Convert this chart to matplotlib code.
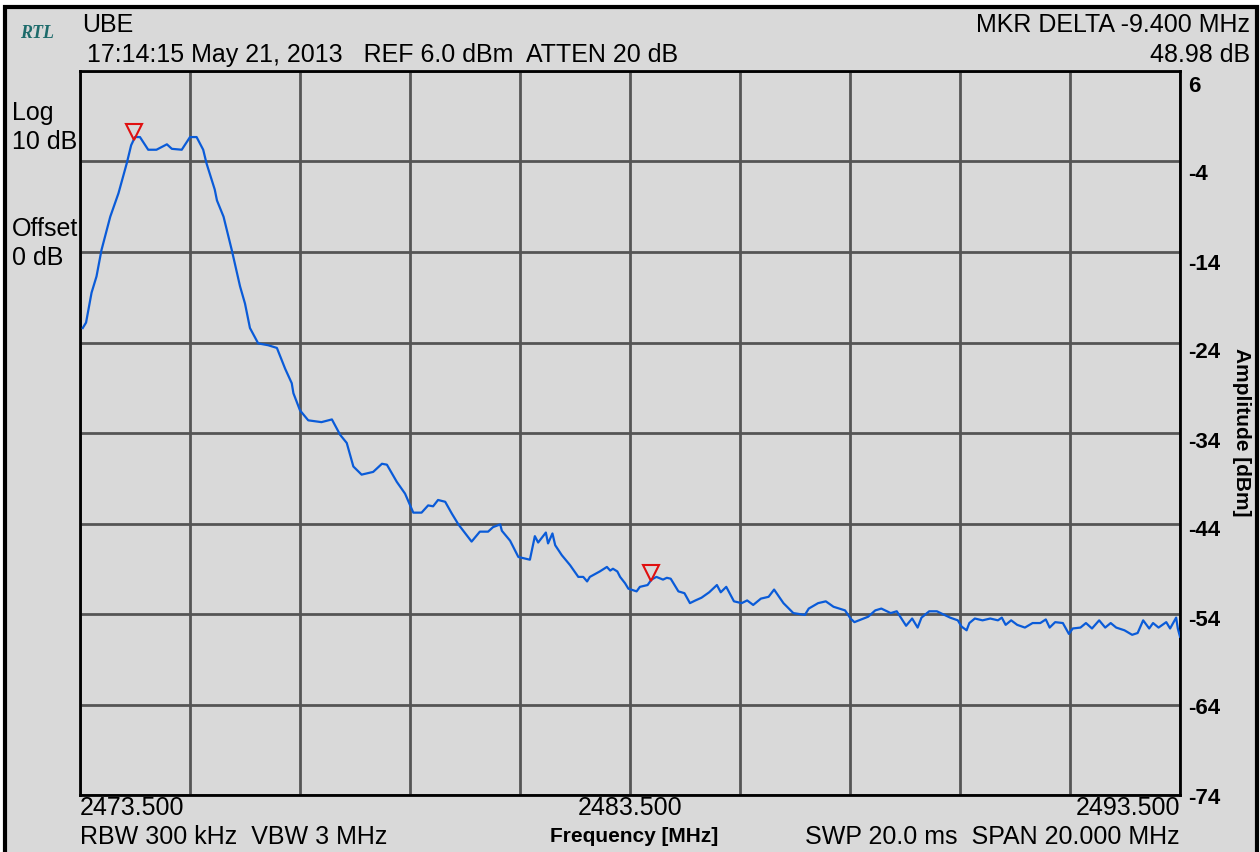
import numpy as np
import matplotlib
matplotlib.use('Agg')
import matplotlib.pyplot as plt
from matplotlib.patches import Rectangle
from matplotlib.transforms import ScaledTranslation, blended_transform_factory

# trace
freq_mhz = [
    2473.55, 2473.61, 2473.71, 2473.80, 2473.89, 2474.05, 2474.20, 2474.35, 2474.43, 2474.50,
    2474.59, 2474.74, 2474.89, 2475.08, 2475.17, 2475.35, 2475.50, 2475.62, 2475.74, 2475.80,
    2475.95, 2475.99, 2476.11, 2476.26, 2476.41, 2476.50, 2476.59, 2476.74, 2476.92, 2477.08,
    2477.23, 2477.35, 2477.38, 2477.50, 2477.65, 2477.89, 2478.08, 2478.23, 2478.35, 2478.47,
    2478.62, 2478.83, 2478.99, 2479.08, 2479.26, 2479.41, 2479.56, 2479.71, 2479.83, 2479.92,
    2480.01, 2480.14, 2480.26, 2480.38, 2480.53, 2480.62, 2480.77, 2480.92, 2481.01, 2481.14,
    2481.17, 2481.32, 2481.47, 2481.68, 2481.77, 2481.83, 2481.97, 2482.01, 2482.09, 2482.14,
    2482.26, 2482.41, 2482.56, 2482.65, 2482.72, 2482.77, 2482.95, 2483.08, 2483.14, 2483.19,
    2483.27, 2483.32, 2483.41, 2483.47, 2483.62, 2483.68, 2483.82, 2483.89, 2483.98, 2484.10,
    2484.17, 2484.24, 2484.38, 2484.49, 2484.59, 2484.69, 2484.80, 2484.94, 2485.08, 2485.15,
    2485.25, 2485.39, 2485.53, 2485.63, 2485.74, 2485.88, 2486.02, 2486.12, 2486.29, 2486.47,
    2486.68, 2486.75, 2486.92, 2487.06, 2487.20, 2487.41, 2487.51, 2487.58, 2487.83, 2487.96,
    2488.07, 2488.24, 2488.35, 2488.52, 2488.63, 2488.73, 2488.80, 2488.94, 2489.08, 2489.32,
    2489.46, 2489.53, 2489.62, 2489.67, 2489.77, 2489.91, 2490.05, 2490.19, 2490.26, 2490.33,
    2490.43, 2490.54, 2490.68, 2490.82, 2490.96, 2491.06, 2491.13, 2491.23, 2491.37, 2491.48,
    2491.55, 2491.69, 2491.79, 2491.90, 2492.03, 2492.14, 2492.24, 2492.34, 2492.49, 2492.63,
    2492.73, 2492.83, 2492.94, 2493.01, 2493.11, 2493.25, 2493.32, 2493.43, 2493.46, 2493.50,
]
amp_dbm = [
    -22.4, -21.8, -18.5, -16.7, -13.8, -10.1, -7.5, -4.2, -2.2, -1.3,
    -1.3, -2.7, -2.7, -2.1, -2.6, -2.7, -1.3, -1.3, -2.7, -4.2,
    -7.1, -8.3, -10.1, -13.8, -17.8, -19.7, -22.4, -24.1, -24.3, -24.6,
    -26.9, -28.5, -29.6, -31.5, -32.6, -32.8, -32.5, -34.2, -35.1, -37.7,
    -38.6, -38.3, -37.4, -37.5, -39.4, -40.7, -42.8, -42.8, -42.0, -42.1,
    -41.4, -41.6, -42.9, -44.1, -45.3, -46.0, -44.9, -44.9, -44.4, -44.1,
    -44.8, -45.9, -47.7, -48.0, -45.4, -46.1, -45.0, -46.2, -45.1, -46.4,
    -47.5, -48.6, -49.9, -49.9, -50.4, -49.9, -49.3, -48.8, -49.2, -49.0,
    -49.3, -49.9, -50.6, -51.2, -51.5, -51.0, -50.8, -50.2, -49.9, -50.2,
    -50.0, -50.1, -51.5, -51.7, -52.8, -52.5, -52.2, -51.6, -50.8, -51.6,
    -51.0, -52.6, -52.8, -52.5, -53.0, -52.3, -52.1, -51.3, -52.8, -53.9,
    -54.1, -53.4, -52.8, -52.6, -53.2, -53.6, -54.5, -54.9, -54.3, -53.6,
    -53.4, -53.9, -53.7, -55.3, -54.5, -55.5, -54.4, -53.7, -53.7, -54.4,
    -54.7, -55.4, -55.8, -55.0, -54.5, -54.7, -54.5, -54.7, -54.4, -55.2,
    -54.7, -55.2, -55.5, -55.0, -55.0, -54.6, -55.5, -54.9, -55.0, -56.2,
    -55.6, -55.5, -55.0, -55.6, -54.7, -55.5, -55.0, -55.5, -55.8, -56.3,
    -56.1, -54.7, -55.6, -55.0, -55.5, -54.9, -55.6, -54.4, -55.6, -56.5,
]
marker_freqs = [2474.48, 2483.88]

y_ticks = [6, -4, -14, -24, -34, -44, -54, -64, -74]
x_ticks = [2473.5, 2475.5, 2477.5, 2479.5, 2481.5, 2483.5,
           2485.5, 2487.5, 2489.5, 2491.5, 2493.5]
x_labels = ['2473.500', '2483.500', '2493.500']

BG = '#d9d9d9'
SANS = ['Liberation Sans', 'DejaVu Sans']
NARROW = ['Liberation Sans Narrow', 'Liberation Sans', 'DejaVu Sans']
FS = 18

W, H = 1260, 852
fig = plt.figure(figsize=(W / 100, H / 100), dpi=100, facecolor='white')
fig.patches.append(Rectangle((5 / W, -0.05), 1252 / W, 1 - 7 / H + 0.05,
                             transform=fig.transFigure, facecolor=BG,
                             edgecolor='black', lw=3, zorder=-1))

def fx(px):
    return px / W

def fy(py):
    return 1 - py / H

ax = fig.add_axes([fx(80), fy(795), fx(1180) - fx(80), fy(71) - fy(795)])
ax.set_facecolor(BG)
ax.set_xlim(2473.5, 2493.5)
ax.set_ylim(-74, 6)
ax.set_xticks(x_ticks)
ax.set_yticks(y_ticks)
ax.tick_params(length=0, labelleft=False, labelbottom=False)
ax.grid(True, color='#555555', lw=2)
ax.set_axisbelow(True)
for s in ax.spines.values():
    s.set_color('black')
    s.set_linewidth(2)

ax.plot(freq_mhz, amp_dbm, color='#0a5bd8', lw=1.6, zorder=3)

mk_amp = np.interp(marker_freqs, freq_mhz, amp_dbm)
up = ax.transData + ScaledTranslation(0, 7 / 100, fig.dpi_scale_trans)
ax.plot(marker_freqs, mk_amp, 'v', ms=11, mfc='none', mec='#e01010',
        mew=1.5, transform=up, zorder=4, clip_on=False)

# right-side amplitude labels, sitting a little below each grid line
bt = blended_transform_factory(ax.transAxes, ax.transData)
for i, v in enumerate(y_ticks):
    off = (15 - 12 * i / 8) / 100
    tr = bt + ScaledTranslation(0, -off, fig.dpi_scale_trans)
    ax.text(1.007, v, str(v), transform=tr, ha='left', va='center',
            fontsize=16, fontweight='bold', family=SANS)

# frequency labels under the axis
below = ax.transData + ScaledTranslation(0, -13 / 100, fig.dpi_scale_trans)
for f, lab, ha in zip([2473.5, 2483.5, 2493.5], x_labels, ['left', 'center', 'right']):
    ax.text(f, -74, lab, transform=below, ha=ha, va='center', fontsize=FS, family=SANS)

# header / footer annotations
fig.text(fx(20), fy(33), 'RTL', fontsize=13, style='italic', fontweight='bold',
         family=['Liberation Serif', 'DejaVu Serif'], color='#1d6b6b', va='center')
fig.text(fx(82), fy(25), 'UBE', fontsize=FS, family=SANS, va='center')
fig.text(fx(87), fy(55), '17:14:15 May 21, 2013   REF 6.0 dBm  ATTEN 20 dB',
         fontsize=FS, family=SANS, va='center')
fig.text(fx(1250), fy(25), 'MKR DELTA -9.400 MHz', fontsize=FS, family=SANS,
         ha='right', va='center')
fig.text(fx(1250), fy(55), '48.98 dB', fontsize=FS, family=SANS,
         ha='right', va='center')
for txt, py in [('Log', 113), ('10 dB', 142), ('Offset', 229), ('0 dB', 258)]:
    fig.text(fx(12), fy(py), txt, fontsize=FS, family=SANS, va='center', zorder=5)
fig.text(fx(80), fy(837), 'RBW 300 kHz  VBW 3 MHz', fontsize=FS, family=SANS, va='center')
fig.text(fx(1180), fy(837), 'SWP 20.0 ms  SPAN 20.000 MHz', fontsize=FS, family=SANS,
         ha='right', va='center')
fig.text(fx(634), fy(836), 'Frequency [MHz]', fontsize=15, fontweight='bold',
         family=NARROW, ha='center', va='center')
fig.text(fx(1241), fy(432), 'Amplitude [dBm]', fontsize=15, fontweight='bold',
         family=NARROW, ha='center', va='center', rotation=270)

fig.savefig('out.png', dpi=100, facecolor=fig.get_facecolor())
